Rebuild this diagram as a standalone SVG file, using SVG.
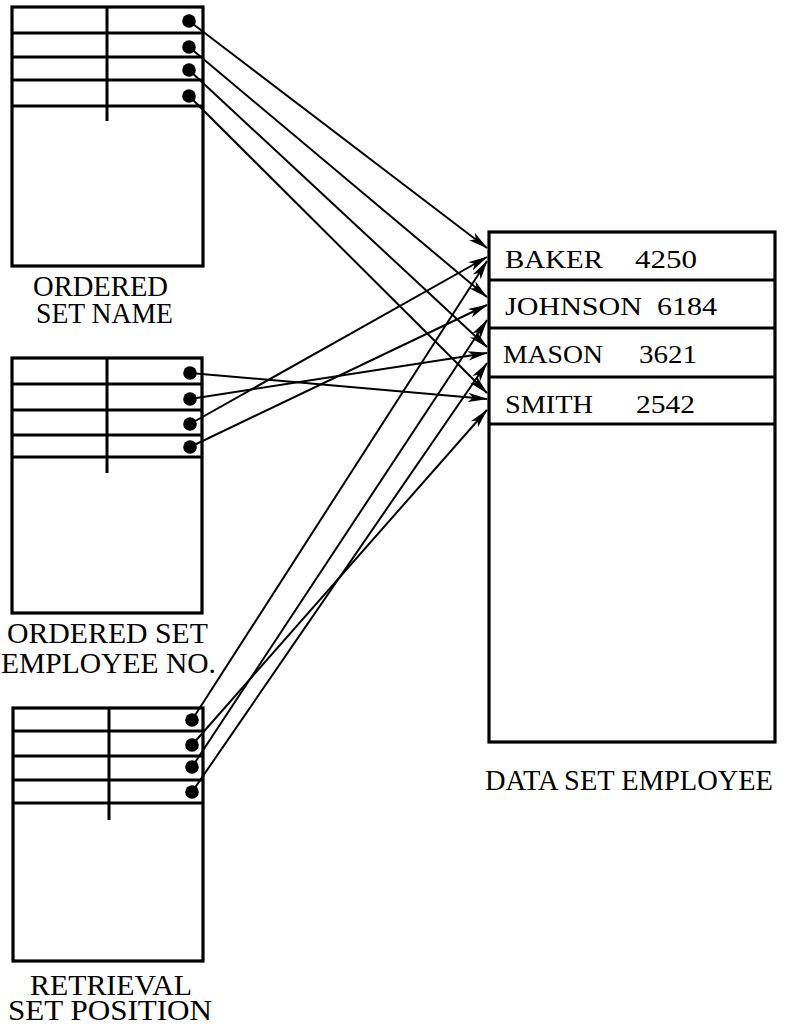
<svg xmlns="http://www.w3.org/2000/svg" width="787" height="1029" viewBox="0 0 787 1029">
  <style>
    .frame { fill: none; stroke: #000; stroke-width: 3.2; }
    .rule { stroke: #000; stroke-width: 3; }
    .dot { fill: #000; }
    .link { fill: none; stroke: #000; stroke-width: 2; marker-end: url(#head); }
    .label { font-family: "Liberation Serif", "Times New Roman", serif; font-size: 30px; fill: #000; }
    .entry { font-family: "Liberation Serif", "Times New Roman", serif; font-size: 26px; fill: #000; }
  </style>
  <defs>
    <marker id="head" markerUnits="userSpaceOnUse" markerWidth="20" markerHeight="11" viewBox="0 0 20 11" refX="19" refY="5.5" orient="auto">
      <path d="M0,0.8 L20,5.5 L0,10.2 L5,5.5 Z" fill="#000"/>
    </marker>
  </defs>
  <rect width="787" height="1029" fill="#fff"/>

  <!-- pointer lines from index entries to data records -->
  <g id="connectors">
    <!-- ordered set NAME -->
    <line class="link" x1="189" y1="21" x2="487" y2="248"/>
    <line class="link" x1="189" y1="47" x2="487" y2="297"/>
    <line class="link" x1="189" y1="70" x2="487" y2="347"/>
    <line class="link" x1="189" y1="96" x2="487" y2="393"/>
    <!-- ordered set EMPLOYEE NO. -->
    <line class="link" x1="190" y1="373" x2="487" y2="399"/>
    <line class="link" x1="190" y1="399" x2="487" y2="353"/>
    <line class="link" x1="190" y1="424" x2="487" y2="257"/>
    <line class="link" x1="190" y1="447" x2="487" y2="305"/>
    <!-- retrieval set POSITION -->
    <line class="link" x1="192" y1="720" x2="487" y2="261"/>
    <line class="link" x1="192" y1="745" x2="487" y2="410"/>
    <line class="link" x1="192" y1="767" x2="487" y2="320"/>
    <line class="link" x1="192" y1="792" x2="487" y2="363"/>
  </g>

  <g id="ordered-set-name">
    <rect class="frame" x="12" y="7" width="191" height="259"/>
    <line class="rule" x1="12" y1="33" x2="203" y2="33"/>
    <line class="rule" x1="12" y1="57" x2="203" y2="57"/>
    <line class="rule" x1="12" y1="80" x2="203" y2="80"/>
    <line class="rule" x1="12" y1="106" x2="203" y2="106"/>
    <line class="rule" x1="107" y1="7" x2="107" y2="121"/>
    <circle class="dot" cx="189" cy="21" r="6.8"/>
    <circle class="dot" cx="189" cy="47" r="6.8"/>
    <circle class="dot" cx="189" cy="70" r="6.8"/>
    <circle class="dot" cx="189" cy="96" r="6.8"/>
    <text class="label" x="33" y="296" textLength="135" lengthAdjust="spacingAndGlyphs">ORDERED</text>
    <text class="label" x="36" y="323" textLength="137" lengthAdjust="spacingAndGlyphs">SET NAME</text>
  </g>

  <g id="ordered-set-employee-no">
    <rect class="frame" x="12" y="358" width="190" height="255"/>
    <line class="rule" x1="12" y1="384" x2="202" y2="384"/>
    <line class="rule" x1="12" y1="410" x2="202" y2="410"/>
    <line class="rule" x1="12" y1="435" x2="202" y2="435"/>
    <line class="rule" x1="12" y1="457" x2="202" y2="457"/>
    <line class="rule" x1="107" y1="358" x2="107" y2="473"/>
    <circle class="dot" cx="190" cy="373" r="6.8"/>
    <circle class="dot" cx="190" cy="399" r="6.8"/>
    <circle class="dot" cx="190" cy="424" r="6.8"/>
    <circle class="dot" cx="190" cy="447" r="6.8"/>
    <text class="label" x="7" y="643" textLength="201" lengthAdjust="spacingAndGlyphs">ORDERED SET</text>
    <text class="label" x="1" y="673" textLength="215" lengthAdjust="spacingAndGlyphs">EMPLOYEE NO.</text>
  </g>

  <g id="retrieval-set-position">
    <rect class="frame" x="13" y="708" width="190" height="253"/>
    <line class="rule" x1="13" y1="731" x2="203" y2="731"/>
    <line class="rule" x1="13" y1="756" x2="203" y2="756"/>
    <line class="rule" x1="13" y1="780" x2="203" y2="780"/>
    <line class="rule" x1="13" y1="803" x2="203" y2="803"/>
    <line class="rule" x1="109" y1="708" x2="109" y2="820"/>
    <circle class="dot" cx="192" cy="720" r="6.8"/>
    <circle class="dot" cx="192" cy="745" r="6.8"/>
    <circle class="dot" cx="192" cy="767" r="6.8"/>
    <circle class="dot" cx="192" cy="792" r="6.8"/>
    <text class="label" x="30" y="995" textLength="162" lengthAdjust="spacingAndGlyphs">RETRIEVAL</text>
    <text class="label" x="8" y="1020" textLength="204" lengthAdjust="spacingAndGlyphs">SET POSITION</text>
  </g>

  <g id="data-set-employee">
    <rect class="frame" x="489" y="232" width="286" height="510"/>
    <line class="rule" x1="489" y1="280" x2="775" y2="280"/>
    <line class="rule" x1="489" y1="328" x2="775" y2="328"/>
    <line class="rule" x1="489" y1="377" x2="775" y2="377"/>
    <line class="rule" x1="489" y1="424" x2="775" y2="424"/>
    <text class="entry" x="505" y="268" textLength="98" lengthAdjust="spacingAndGlyphs">BAKER</text>
    <text class="entry" x="635" y="268" textLength="62" lengthAdjust="spacingAndGlyphs">4250</text>
    <text class="entry" x="505" y="315" textLength="137" lengthAdjust="spacingAndGlyphs">JOHNSON</text>
    <text class="entry" x="657" y="315" textLength="60" lengthAdjust="spacingAndGlyphs">6184</text>
    <text class="entry" x="503" y="363" textLength="100" lengthAdjust="spacingAndGlyphs">MASON</text>
    <text class="entry" x="639" y="363" textLength="58" lengthAdjust="spacingAndGlyphs">3621</text>
    <text class="entry" x="505" y="413" textLength="88" lengthAdjust="spacingAndGlyphs">SMITH</text>
    <text class="entry" x="636" y="413" textLength="59" lengthAdjust="spacingAndGlyphs">2542</text>
    <text class="label" x="485" y="790" textLength="288" lengthAdjust="spacingAndGlyphs">DATA SET EMPLOYEE</text>
  </g>
</svg>
